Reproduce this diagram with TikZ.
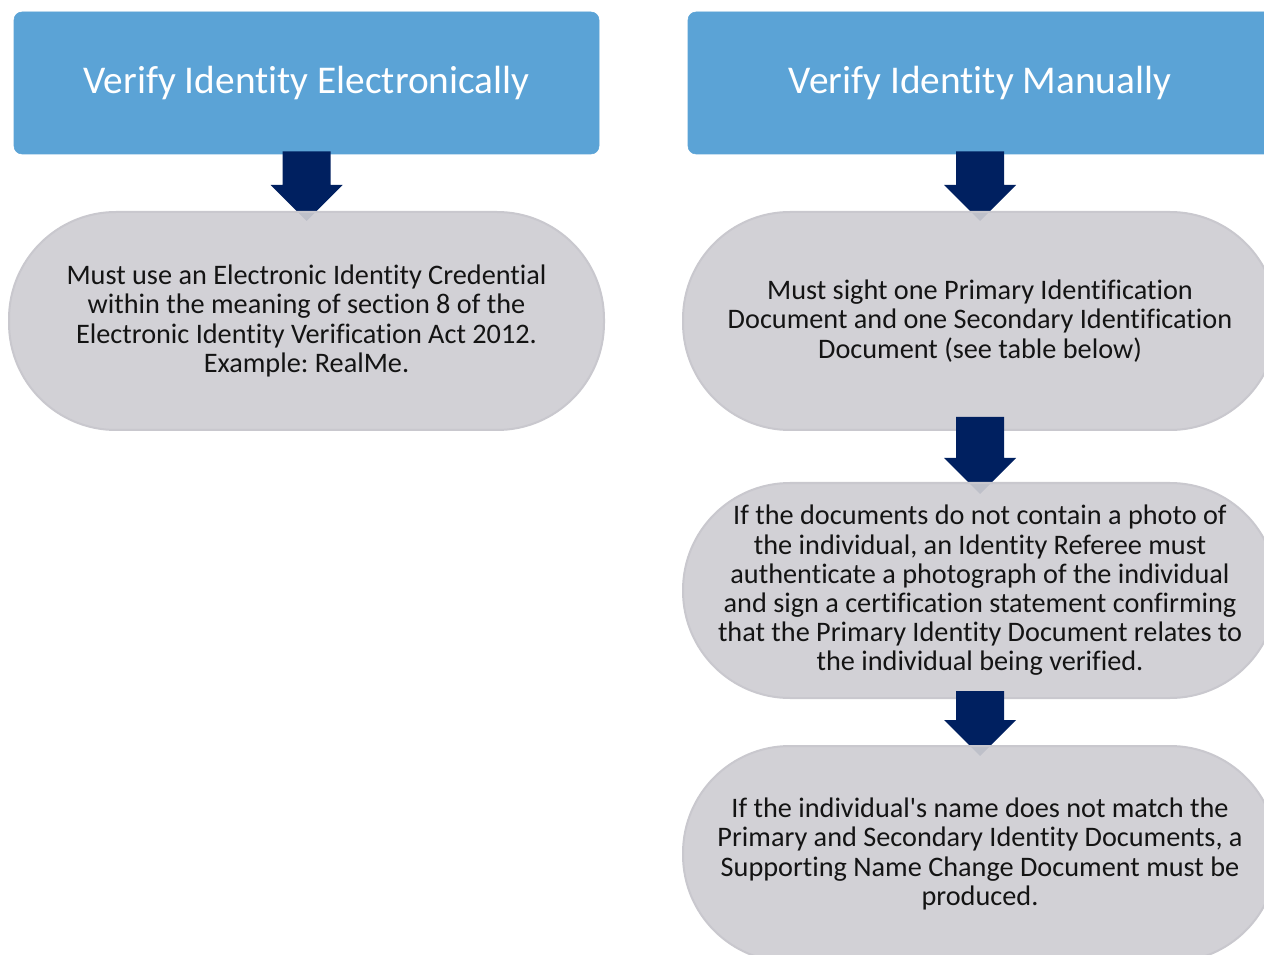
\documentclass[tikz,border=0pt]{standalone}
\usepackage{fontspec}
\setmainfont{Carlito}[Ligatures=NoCommon]
\usetikzlibrary{calc}

\definecolor{headblue}{HTML}{5BA3D6}
\definecolor{pillgray}{HTML}{CFCED3}
\definecolor{pillline}{HTML}{C9C8CE}
\definecolor{navy}{HTML}{002060}
\definecolor{ink}{HTML}{141414}

\newdimen\upx \upx=0.75pt

\pgfdeclarelayer{arrowsA}
\pgfdeclarelayer{pillsA}
\pgfdeclarelayer{arrowsB}
\pgfdeclarelayer{pillsB}
\pgfdeclarelayer{arrowsC}
\pgfdeclarelayer{pillsC}
\pgfsetlayers{main,arrowsA,pillsA,arrowsB,pillsB,arrowsC,pillsC}

% block arrow from a start point down to a tip point
\newcommand{\blockarrow}[2]{%
  \fill[navy] let \p1=(#1), \p2=(#2) in
    (\x1-24\upx,\y1) -- (\x1+24\upx,\y1) -- (\x1+24\upx,\y2+36\upx)
    -- (\x1+36\upx,\y2+36\upx) -- (\x1,\y2) -- (\x1-36\upx,\y2+36\upx)
    -- (\x1-24\upx,\y2+36\upx) -- cycle;}

\tikzset{
  header/.style={rectangle, rounded corners=8\upx, fill=headblue, draw=headblue,
    text=white, font=\fontsize{29.5}{34}\selectfont, inner sep=0pt},
  pill/.style={rectangle, rounded corners=107\upx, fill=pillgray, fill opacity=0.92,
    text opacity=1, draw=pillline, line width=2\upx, text=ink, align=center,
    font=\fontsize{21.2}{21.9}\selectfont, inner sep=0pt},
}

\begin{document}
\frenchspacing
\begin{tikzpicture}[x=0.75pt,y=-0.75pt]
\useasboundingbox (0,0) rectangle (1264,955);
\clip (0,0) rectangle (1264,955);
\fill[white] (0,0) rectangle (1264,955);

% headers
\node[header, minimum width=585\upx, minimum height=142\upx] (hE) at (306.5,83) {Verify Identity Electronically};
\node[header, minimum width=584\upx, minimum height=142\upx] (hM) at (980,83) {Verify Identity Manually};

% steps
\begin{pgfonlayer}{pillsA}
\node[pill, minimum width=595\upx, minimum height=218\upx] (pE) at (306.5,321)
  {Must use an Electronic Identity Credential\\within the meaning of section 8 of the\\Electronic Identity Verification Act 2012.\\Example: RealMe.};
\node[pill, minimum width=594\upx, minimum height=218\upx] (pM1) at (980,321)
  {Must sight one Primary Identification\\Document and one Secondary Identification\\Document (see table below)};
\end{pgfonlayer}
\begin{pgfonlayer}{pillsB}
\node[pill, minimum width=594\upx, minimum height=215\upx] (pM2) at (980,590.5)
  {If the documents do not contain a photo of\\the individual, an Identity Referee must\\authenticate a photograph of the individual\\and sign a certification statement confirming\\that the Primary Identity Document relates to\\the individual being verified.};
\end{pgfonlayer}
\begin{pgfonlayer}{pillsC}
\node[pill, minimum width=594\upx, minimum height=216\upx] (pM3) at (980,854)
  {If the individual\textquotesingle s name does not match the\\Primary and Secondary Identity Documents, a\\Supporting Name Change Document must be\\produced.};
\end{pgfonlayer}

% connectors
\begin{pgfonlayer}{arrowsA}
\blockarrow{$(hE.south)+(0,-3)$}{$(pE.north)+(0,10)$}
\blockarrow{$(hM.south)+(0,-3)$}{$(pM1.north)+(0,10)$}
\end{pgfonlayer}
\begin{pgfonlayer}{arrowsB}
\blockarrow{$(pM1.south)+(0,-14)$}{$(pM2.north)+(0,12)$}
\end{pgfonlayer}
\begin{pgfonlayer}{arrowsC}
\blockarrow{$(pM2.south)+(0,-8)$}{$(pM3.north)+(0,11)$}
\end{pgfonlayer}
\end{tikzpicture}
\end{document}
